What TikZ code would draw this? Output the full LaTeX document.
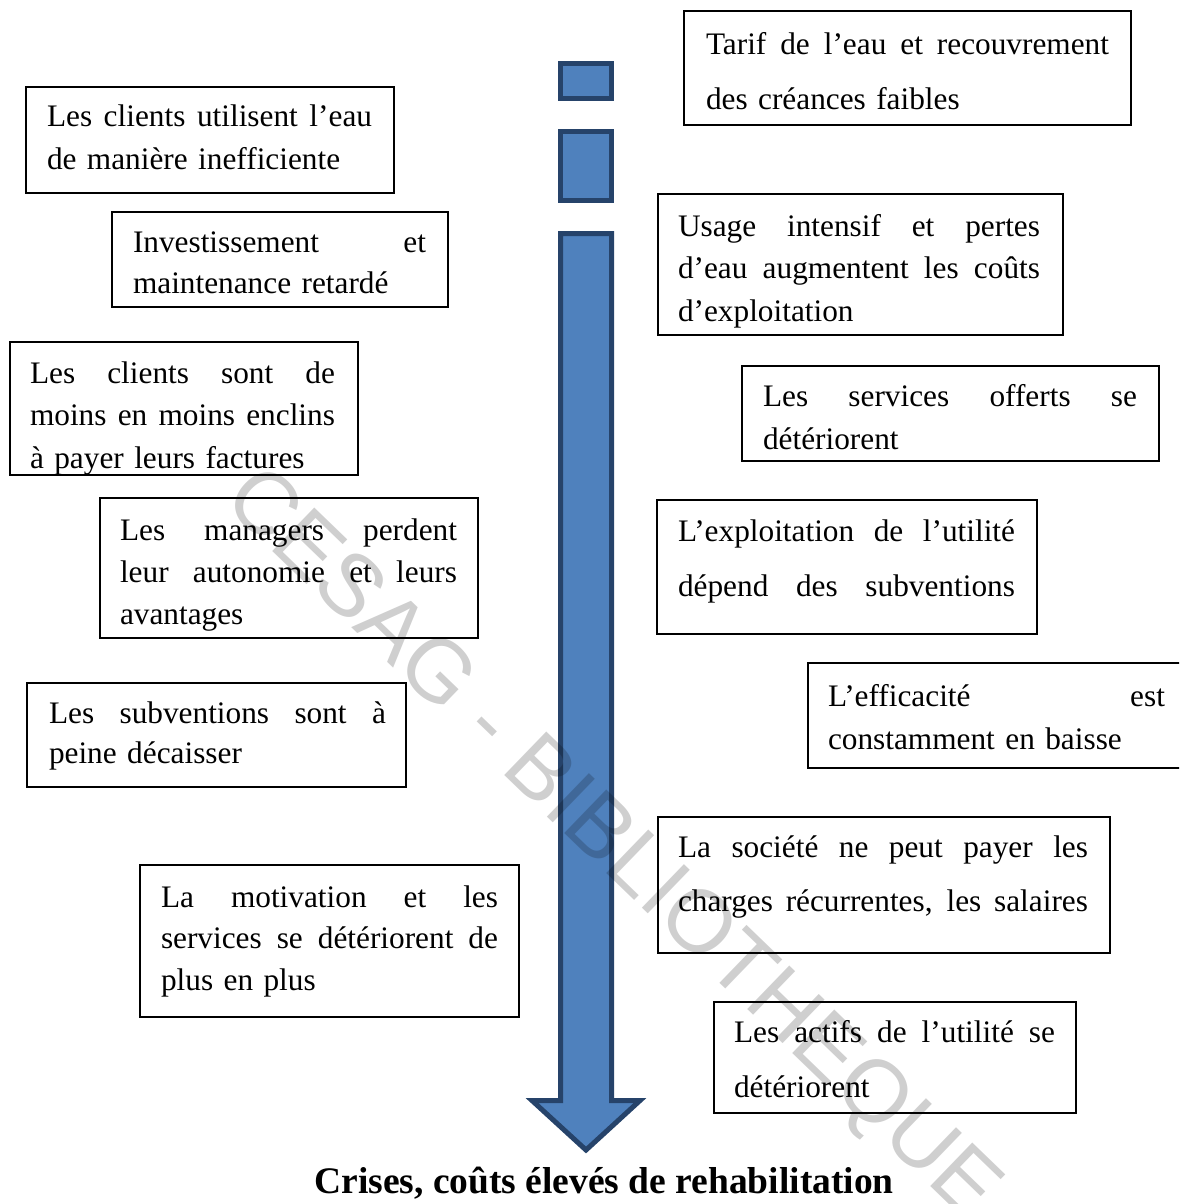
\documentclass[tikz,border=0pt]{standalone}
\usepackage{fontspec}
\setmainfont{Liberation Serif}
\newfontfamily\wmfont{Liberation Sans}
\usetikzlibrary{fit}
\definecolor{arrowfill}{HTML}{4F81BD}
\definecolor{arrowedge}{HTML}{26436A}
% a line stretched to the full text width (justified line)
\newcommand\linew{100pt}
\newcommand\jl[1]{\leavevmode\hbox to \linew{\spaceskip=\fontdimen2\font plus 1fil minus \fontdimen4\font\relax #1}}

\begin{document}
\begin{tikzpicture}[x=1pt,y=-1pt,
  frame/.style={draw=black, line width=1.6pt, inner sep=0pt, outer sep=0pt},
  txt/.style={inner sep=0pt, outer sep=0pt, align=left, anchor=base west,
              font=\fontsize{31.3}{#1}\selectfont},
  txt/.default=42,
  w/.code={\pgfkeysalso{/tikz/text width=#1pt}\def\linew{#1pt}},
  bigarrow/.style={fill=arrowfill, draw=arrowedge, line width=5pt, line join=miter},
  heading/.style={inner sep=0pt, anchor=base, font=\bfseries\fontsize{37.5}{40}\selectfont},
  stamp/.style={inner sep=0pt, rotate=-44, text=black, text opacity=0.19,
                font=\wmfont\fontsize{88}{90}\selectfont}]
\useasboundingbox (0,0) rectangle (1179,1204);
\clip (0,0) rectangle (1179,1204);

% central downward arrow, split in three pieces
\draw[bigarrow] (560.5,63.5) rectangle (611.5,98.5);
\draw[bigarrow] (560.5,131.5) rectangle (611.5,200.5);
\draw[bigarrow] (560.5,233.5) -- (611.5,233.5) -- (611.5,1100.5) -- (640,1100.5)
   -- (586,1150) -- (532,1100.5) -- (560.5,1100.5) -- cycle;

% left column
\node[txt=43, w=325] (t1) at (47,127)
  {\jl{Les clients utilisent l’eau}\\de manière inefficiente};
\node[frame, fit={(26,87) (394,193)}] (b1) {};

\node[txt=41, w=293] (t2) at (133,252)
  {\jl{Investissement et}\\maintenance retardé};
\node[frame, fit={(112,212) (448,307)}] (b2) {};

\begin{scope}
  \clip (10,342) rectangle (358,475);
  \node[txt=42.5, w=305] (t3) at (30,383)
    {\jl{Les clients sont de}\\\jl{moins en moins enclins}\\à payer leurs factures};
\end{scope}
\node[frame, fit={(10,342) (358,475)}] (b3) {};

\node[txt=42, w=337] (t4) at (120,540)
  {\jl{Les managers perdent}\\\jl{leur autonomie et leurs}\\avantages};
\node[frame, fit={(100,498) (478,638)}] (b4) {};

\node[txt=40, w=337] (t5) at (49,723)
  {\jl{Les subventions sont à}\\peine décaisser};
\node[frame, fit={(27,683) (406,787)}] (b5) {};

\node[txt=41.5, w=337] (t6) at (161,907)
  {\jl{La motivation et les}\\\jl{services se détériorent de}\\plus en plus};
\node[frame, fit={(140,865) (519,1017)}] (b6) {};

% right column
\node[txt=55, w=403] (t7) at (706,55)
  {\jl{Tarif de l’eau et recouvrement}\\des créances faibles};
\node[frame, fit={(684,11) (1131,125)}] (b7) {};

\node[txt=42.5, w=362] (t8) at (678,236)
  {\jl{Usage intensif et pertes}\\\jl{d’eau augmentent les coûts}\\d’exploitation};
\node[frame, fit={(658,194) (1063,335)}] (b8) {};

\node[txt=43, w=374] (t9) at (763,406)
  {\jl{Les services offerts se}\\détériorent};
\node[frame, fit={(742,366) (1159,461)}] (b9) {};

\node[txt=55, w=337] (t10) at (678,541)
  {\jl{L’exploitation de l’utilité}\\\jl{dépend des subventions}};
\node[frame, fit={(657,500) (1037,634)}] (b10) {};

\node[txt=43, w=337] (t11) at (828,706)
  {\jl{L’efficacité est}\\constamment en baisse};
\node[frame, fit={(808,663) (1190,768)}] (b11) {};

\node[txt=54, w=410] (t12) at (678,857)
  {\jl{La société ne peut payer les}\\\jl{charges récurrentes, les salaires}};
\node[frame, fit={(658,817) (1110,953)}] (b12) {};

\node[txt=55, w=321] (t13) at (734,1042)
  {\jl{Les actifs de l’utilité se}\\détériorent};
\node[frame, fit={(714,1002) (1076,1113)}] (b13) {};

% outcome at the arrow tip
\node[heading] (title) at (604,1193) {Crises, coûts élevés de rehabilitation};

% library stamp across the page
\node[stamp] (wm) at (610,846) {CESAG - BIBLIOTHEQUE};
\end{tikzpicture}
\end{document}
